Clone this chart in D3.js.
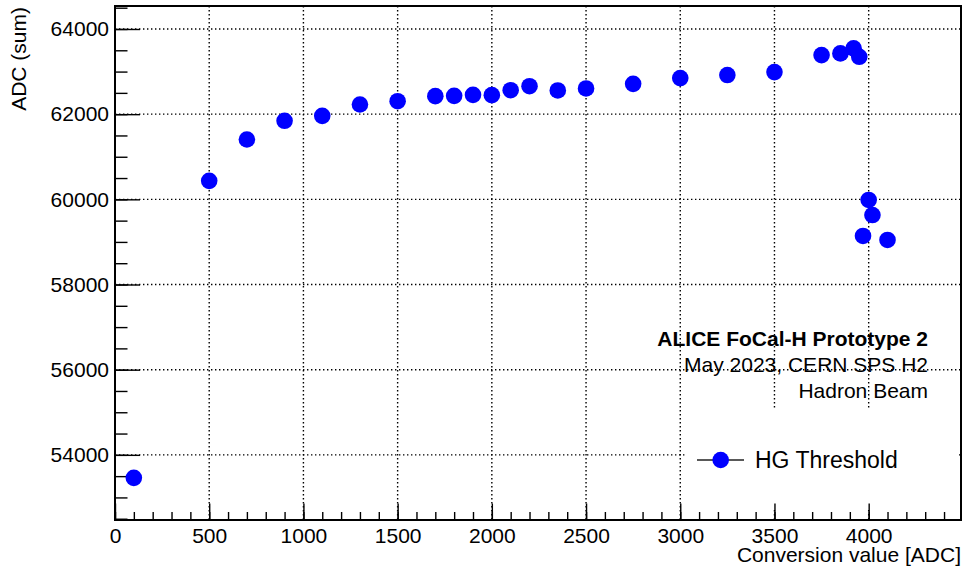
<!DOCTYPE html>
<html>
<head>
<meta charset="utf-8">
<script src="https://cdn.jsdelivr.net/npm/d3@7"></script>
<style>
  body { margin: 0; background: #fff; }
  svg { display: block; font-family: "Liberation Sans", Arial, Helvetica, sans-serif; }
</style>
</head>
<body>
<div id="chart"></div>
<script>
// conversion value [ADC] and summed ADC
const convValues = [100, 500, 700, 900, 1100, 1300, 1500, 1700, 1800, 1900, 2000, 2100, 2200, 2350,
                    2500, 2750, 3000, 3250, 3500, 3750, 3850, 3920, 3950, 4000, 4020, 3970, 4100];
const adcValues  = [53460, 60434, 61405, 61844, 61961, 62227, 62305, 62423, 62430, 62453, 62446, 62563, 62657, 62556,
                    62603, 62712, 62847, 62918, 62988, 63387, 63427, 63545, 63347, 59985, 59632, 59140, 59046];

const xTicks = [0, 500, 1000, 1500, 2000, 2500, 3000, 3500, 4000];
const yTicks = [54000, 56000, 58000, 60000, 62000, 64000];
const infoLines = ["ALICE FoCal-H Prototype 2", "May 2023, CERN SPS H2", "Hadron Beam"];
const legendLabel = "HG Threshold";

const W = 963, H = 572;
const frame = {left: 115, right: 961, top: 6, bottom: 520};

const svg = d3.select("#chart").append("svg")
              .attr("width", W)
              .attr("height", H);

const x = d3.scaleLinear().domain([0, 4490]).range([frame.left, frame.right]);
const y = d3.scaleLinear().domain([52470, 64540]).range([frame.bottom, frame.top]);

// grid (dotted, major ticks only)
const grid = svg.append("g")
  .attr("stroke", "#000")
  .attr("stroke-width", 1.4)
  .attr("stroke-dasharray", "1.4,2.6");

grid.selectAll(".gx")
  .data(xTicks.filter(d => d > 0))
  .enter().append("line")
  .attr("x1", d => x(d)).attr("x2", d => x(d))
  .attr("y1", frame.top).attr("y2", frame.bottom);

grid.selectAll(".gy")
  .data(yTicks)
  .enter().append("line")
  .attr("x1", frame.left).attr("x2", frame.right)
  .attr("y1", d => y(d)).attr("y2", d => y(d));

// legend box hides the grid behind it
svg.append("rect")
  .attr("x", 685).attr("y", 410)
  .attr("width", 273).attr("height", 100)
  .attr("fill", "#fff");

// axes
const xMinor = d3.range(0, 4490, 100);
const yMinor = d3.range(52500, 64540, 500);

svg.append("g")
  .attr("transform", `translate(0,${frame.bottom})`)
  .call(d3.axisBottom(x).tickValues(xMinor).tickFormat("").tickSize(-8).tickSizeOuter(0))
  .call(g => g.select(".domain").remove())
  .call(g => g.selectAll("line").attr("stroke-width", 1.4));

svg.append("g")
  .attr("transform", `translate(0,${frame.bottom})`)
  .call(d3.axisBottom(x).tickValues(xTicks).tickFormat(d3.format("d")).tickSize(-16.5).tickSizeOuter(0).tickPadding(8))
  .call(g => g.select(".domain").remove())
  .call(g => g.selectAll("line").attr("stroke-width", 1.4))
  .call(g => g.selectAll("text").attr("font-size", 21).attr("font-family", null).attr("fill", "#000"));

svg.append("g")
  .attr("transform", `translate(${frame.left},0)`)
  .call(d3.axisLeft(y).tickValues(yMinor).tickFormat("").tickSize(-12.5).tickSizeOuter(0))
  .call(g => g.select(".domain").remove())
  .call(g => g.selectAll("line").attr("stroke-width", 1.4));

svg.append("g")
  .attr("transform", `translate(${frame.left},0)`)
  .call(d3.axisLeft(y).tickValues(yTicks).tickFormat(d3.format("d")).tickSize(-25).tickSizeOuter(0).tickPadding(6))
  .call(g => g.select(".domain").remove())
  .call(g => g.selectAll("line").attr("stroke-width", 1.4))
  .call(g => g.selectAll("text").attr("font-size", 21).attr("font-family", null).attr("fill", "#000"));

// frame
svg.append("rect")
  .attr("x", frame.left).attr("y", frame.top)
  .attr("width", frame.right - frame.left).attr("height", frame.bottom - frame.top)
  .attr("fill", "none")
  .attr("stroke", "#000")
  .attr("stroke-width", 2);

// axis titles
svg.append("text")
  .attr("x", frame.right).attr("y", 562)
  .attr("text-anchor", "end")
  .attr("font-size", 21)
  .text("Conversion value [ADC]");

svg.append("text")
  .attr("transform", "translate(26,7) rotate(-90)")
  .attr("text-anchor", "end")
  .attr("font-size", 21)
  .text("ADC (sum)");

// points
const points = convValues.map((c, i) => ({conv: c, adc: adcValues[i]}));

svg.selectAll(".pt")
  .data(points)
  .enter().append("circle")
  .attr("class", "pt")
  .attr("cx", d => x(d.conv))
  .attr("cy", d => y(d.adc))
  .attr("r", 8.3)
  .attr("fill", "#0000ff");

// info text
svg.selectAll(".info")
  .data(infoLines)
  .enter().append("text")
  .attr("x", 928)
  .attr("y", (d, i) => 346 + i * 26)
  .attr("text-anchor", "end")
  .attr("font-size", 21)
  .attr("font-weight", (d, i) => i === 0 ? "bold" : "normal")
  .text(d => d);

// legend
const leg = svg.append("g");
leg.append("line")
  .attr("x1", 697).attr("x2", 744)
  .attr("y1", 460).attr("y2", 460)
  .attr("stroke", "#222")
  .attr("stroke-width", 1.5);
leg.append("circle")
  .attr("cx", 720.7).attr("cy", 460)
  .attr("r", 8.3)
  .attr("fill", "#0000ff");
leg.append("text")
  .attr("x", 755).attr("y", 468)
  .attr("font-size", 23)
  .text(legendLabel);
</script>
</body>
</html>
